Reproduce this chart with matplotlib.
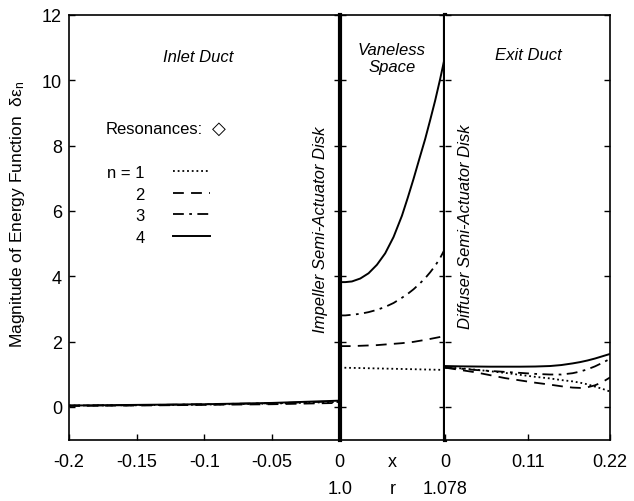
import matplotlib
matplotlib.use('Agg')
import matplotlib.pyplot as plt
import matplotlib.transforms as mtransforms

plt.rcParams['font.family'] = ['Liberation Sans', 'DejaVu Sans']
plt.rcParams['mathtext.default'] = 'regular'

# --- data ---
# inlet duct, x from -0.2 to 0
x_inlet = [-0.2, -0.15, -0.1, -0.05, 0.0]
inlet_n1 = [0.04, 0.05, 0.07, 0.10, 0.15]
inlet_n2 = [0.03, 0.04, 0.06, 0.08, 0.12]
inlet_n3 = [0.04, 0.05, 0.08, 0.11, 0.17]
inlet_n4 = [0.04, 0.06, 0.08, 0.12, 0.19]

# vaneless space, r from 1.0 to 1.078
r_vaneless = [1.0, 1.0041, 1.0090, 1.0152, 1.0213, 1.0275, 1.0336, 1.0398, 1.0460,
              1.0503, 1.0546, 1.0588, 1.0632, 1.0669, 1.0706, 1.0743, 1.078]
vane_n1 = [1.20, 1.197, 1.193, 1.188, 1.182, 1.177, 1.171, 1.166, 1.160,
           1.156, 1.152, 1.148, 1.144, 1.141, 1.137, 1.134, 1.13]
vane_n2 = [1.86, 1.86, 1.86, 1.87, 1.88, 1.89, 1.91, 1.93, 1.95,
           1.97, 1.99, 2.02, 2.05, 2.08, 2.11, 2.14, 2.17]
vane_n3 = [2.80, 2.80, 2.82, 2.85, 2.90, 2.97, 3.06, 3.18, 3.34,
           3.46, 3.60, 3.76, 3.94, 4.12, 4.32, 4.56, 4.85]
vane_n4 = [3.82, 3.82, 3.84, 3.93, 4.09, 4.35, 4.70, 5.20, 5.85,
           6.40, 6.98, 7.58, 8.20, 8.78, 9.38, 10.04, 10.75]

# exit duct, x from 0 to 0.22
x_exit = [0.0, 0.02, 0.04, 0.06, 0.08, 0.10, 0.12, 0.14, 0.155, 0.17,
          0.18, 0.19, 0.20, 0.21, 0.22]
exit_n1 = [1.20, 1.18, 1.14, 1.09, 1.04, 0.98, 0.92, 0.87, 0.82, 0.78,
           0.74, 0.69, 0.62, 0.55, 0.47]
exit_n2 = [1.20, 1.13, 1.06, 0.97, 0.88, 0.81, 0.74, 0.68, 0.63, 0.59,
           0.58, 0.60, 0.66, 0.76, 0.90]
exit_n3 = [1.20, 1.17, 1.13, 1.10, 1.07, 1.04, 1.01, 0.99, 0.99, 1.03,
           1.08, 1.15, 1.24, 1.35, 1.47]
exit_n4 = [1.25, 1.24, 1.235, 1.23, 1.23, 1.23, 1.235, 1.25, 1.28, 1.33,
           1.37, 1.42, 1.48, 1.55, 1.62]

labels = ['n = 1', '2', '3', '4']
styles = [(0, (1, 1.6)), (0, (6, 4)), (0, (6, 3, 1.5, 3)), '-']
widths = [1.3, 1.3, 1.3, 1.4]

inlet = [inlet_n1, inlet_n2, inlet_n3, inlet_n4]
vane = [vane_n1, vane_n2, vane_n3, vane_n4]
exitd = [exit_n1, exit_n2, exit_n3, exit_n4]

fig = plt.figure(figsize=(6.34, 5.02), dpi=100)
gs = fig.add_gridspec(1, 3, width_ratios=[271, 105.5, 165], wspace=0,
                      left=69 / 634, right=610 / 634,
                      bottom=1 - 440.5 / 502, top=1 - 16 / 502)
ax1 = fig.add_subplot(gs[0])
ax2 = fig.add_subplot(gs[1], sharey=ax1)
ax3 = fig.add_subplot(gs[2], sharey=ax1)

handles = []
for i in range(4):
    h, = ax1.plot(x_inlet, inlet[i], color='black', ls=styles[i], lw=widths[i])
    handles.append(h)
    ax2.plot(r_vaneless, vane[i], color='black', ls=styles[i], lw=widths[i])
    ax3.plot(x_exit, exitd[i], color='black', ls=styles[i], lw=widths[i])

ax1.set_xlim(-0.2, 0)
ax2.set_xlim(1.0, 1.078)
ax3.set_xlim(0, 0.22)
ax1.set_ylim(-1, 12)
ax1.set_yticks([0, 2, 4, 6, 8, 10, 12])

for ax in (ax1, ax2, ax3):
    ax.tick_params(direction='in', length=4, width=1, labelsize=13,
                   left=True, right=True, pad=10)
    ax.tick_params(axis='y', pad=5)
    for s in ax.spines.values():
        s.set_linewidth(1.2)
ax2.tick_params(labelleft=False)
ax3.tick_params(labelleft=False)

ax1.set_xticks([-0.2, -0.15, -0.1, -0.05, 0])
ax1.set_xticklabels(['-0.2', '-0.15', '-0.1', '-0.05', '0'])
ax2.set_xticks([])
ax3.set_xticks([0, 0.11, 0.22])
ax3.set_xticklabels(['0', '0.11', '0.22'])

# heavy lines for the two semi-actuator disks
ax2.spines['left'].set_linewidth(3)
ax2.spines['right'].set_linewidth(3)
ax1.spines['right'].set_visible(False)
ax3.spines['left'].set_visible(False)

# x / r labels under the vaneless space
tr = mtransforms.blended_transform_factory(ax2.transData, fig.transFigure)
ax2.text(1.039, 1 - 463 / 502, 'x', transform=tr, ha='center', va='center', fontsize=13)
ax2.text(1.0, 1 - 490 / 502, '1.0', transform=tr, ha='center', va='center', fontsize=13)
ax2.text(1.039, 1 - 490 / 502, 'r', transform=tr, ha='center', va='center', fontsize=13)
ax2.text(1.078, 1 - 490 / 502, '1.078', transform=tr, ha='center', va='center', fontsize=13)

fig.text(18 / 634, 1 - 214 / 502, 'Magnitude of Energy Function  δε$_n$',
         rotation=90, ha='center', va='center', fontsize=12.5)

# region labels
def ftext(px, py, s, **kw):
    fig.text(px / 634, 1 - py / 502, s, ha='center', va='center', fontsize=12, **kw)

ftext(198, 57, 'Inlet Duct', style='italic')
ftext(392, 59, 'Vaneless\nSpace', style='italic', linespacing=1.15)
ftext(528, 56, 'Exit Duct', style='italic')
ftext(321, 230, 'Impeller Semi-Actuator Disk', style='italic', rotation=90)
ftext(465, 227, 'Diffuser Semi-Actuator Disk', style='italic', rotation=90)

fig.text(106 / 634, 1 - 129 / 502, 'Resonances:', ha='left', va='center', fontsize=12)
fig.text(219 / 634, 1 - 129 / 502, '◇', ha='center', va='center', fontsize=13,
         family=['DejaVu Sans'], fontweight='bold')

leg = ax1.legend(handles, labels, loc='upper left', frameon=False,
                 bbox_to_anchor=(107 / 634, 1 - 166 / 502),
                 bbox_transform=fig.transFigure, markerfirst=False,
                 fontsize=12, handlelength=2.2, handletextpad=1.7,
                 labelspacing=0.4, borderpad=0, borderaxespad=0)

fig.savefig('out.png', dpi=100, facecolor='white')
